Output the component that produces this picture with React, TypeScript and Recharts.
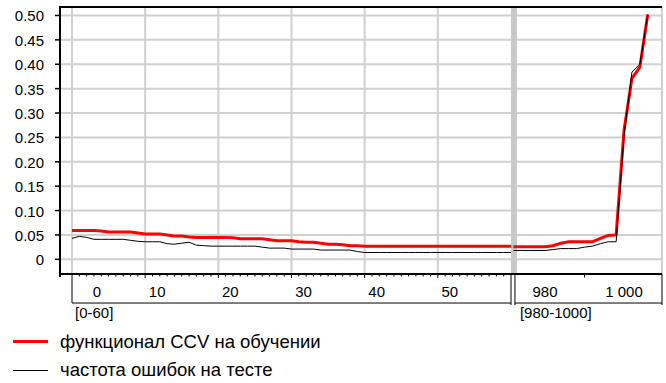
import React from "react";
import {
  LineChart,
  Line,
  XAxis,
  YAxis,
  CartesianGrid,
  ReferenceLine,
  ReferenceArea,
} from "recharts";

const FONT = '"Liberation Sans", Arial, sans-serif';

// left block of the broken x axis, [0-60]
const leftX = [
  0, 1, 2, 3, 4, 5, 6, 7, 8, 9, 10, 11, 12, 13, 14, 15, 16, 17, 18, 19, 20,
  21, 22, 23, 24, 25, 26, 27, 28, 29, 30, 31, 32, 33, 34, 35, 36, 37, 38, 39,
  40, 41, 42, 43, 44, 45, 46, 47, 48, 49, 50, 51, 52, 53, 54, 55, 56, 57, 58,
  59, 60,
];
const ccvLeft = [
  0.059, 0.059, 0.059, 0.059, 0.058, 0.056, 0.056, 0.056, 0.056, 0.054, 0.052,
  0.052, 0.052, 0.05, 0.048, 0.048, 0.046, 0.045, 0.045, 0.045, 0.045, 0.045,
  0.044, 0.042, 0.042, 0.042, 0.042, 0.04, 0.038, 0.038, 0.038, 0.036, 0.035,
  0.035, 0.033, 0.031, 0.031, 0.03, 0.028, 0.028, 0.027, 0.027, 0.027, 0.027,
  0.027, 0.027, 0.027, 0.027, 0.027, 0.027, 0.027, 0.027, 0.027, 0.027, 0.027,
  0.027, 0.027, 0.027, 0.027, 0.027, 0.027,
];
const testLeft = [
  0.043, 0.047, 0.045, 0.041, 0.041, 0.041, 0.041, 0.041, 0.039, 0.037, 0.036,
  0.036, 0.036, 0.032, 0.031, 0.033, 0.035, 0.029, 0.028, 0.027, 0.027, 0.027,
  0.027, 0.027, 0.027, 0.027, 0.025, 0.023, 0.023, 0.023, 0.021, 0.021, 0.021,
  0.021, 0.019, 0.019, 0.019, 0.019, 0.019, 0.016, 0.014, 0.014, 0.014, 0.014,
  0.014, 0.014, 0.014, 0.014, 0.014, 0.014, 0.014, 0.014, 0.014, 0.014, 0.014,
  0.014, 0.014, 0.014, 0.014, 0.014, 0.014,
];

// right block, [980-1000]
const rightX = [
  972, 974, 976, 978, 980, 982, 984, 986, 988, 990, 992, 994, 996, 998, 1000,
  1002, 1004, 1006,
];
const ccvRight = [
  0.026, 0.026, 0.026, 0.026, 0.026, 0.028, 0.033, 0.036, 0.036, 0.036, 0.036,
  0.043, 0.049, 0.05, 0.265, 0.371, 0.394, 0.502,
];
const testRight = [
  0.018, 0.018, 0.018, 0.018, 0.018, 0.02, 0.022, 0.022, 0.022, 0.025, 0.027,
  0.032, 0.036, 0.036, 0.254, 0.384, 0.4, 0.502,
];

const yTicks = [0, 0.05, 0.1, 0.15, 0.2, 0.25, 0.3, 0.35, 0.4, 0.45, 0.5];
const leftGrid = [0, 10, 20, 30, 40, 50];
const rightTicks = [980, 990, 1000];
const rightTickLabels = ["980", "", "1 000"];
const blockLabels = ["[0-60]", "[980-1000]"];
const seriesNames = ["функционал CCV на обучении", "частота ошибок на тесте"];

const W = 666;
const H = 383;
const MARGIN = { top: 7, right: 4, bottom: 107, left: 0 };
const Y_AXIS_W = 60;

const Y_MIN = -0.0301;
const Y_MAX = 0.5174;
const BOX_BOTTOM = -0.0896;
const BOX_EDGE = -0.0937;
const LEFT_DOMAIN = [0, 60];
const LEFT_PAD = { left: 12, right: 151 };
const RIGHT_DOMAIN = [971.4, 1009.6];
const RIGHT_BOX_START = 972.4;
const BAND_END = 972.9;

const PLOT_LEFT = MARGIN.left + Y_AXIS_W;
const PLOT_RIGHT = W - MARGIN.right;
const PLOT_TOP = MARGIN.top;
const PLOT_BOTTOM = H - MARGIN.bottom - 2;

const GRID = "#d0d0d0";

const toPoints = (xs: number[], ys: number[]) =>
  xs.map((x, i) => ({ x, y: ys[i] }));

// tick marks are small filled rects (thin <line> strokes did not show up)
const YTick = (props: any) => {
  const { x, y, payload } = props;
  const v = payload.value as number;
  return (
    <g>
      <rect x={x + 11} y={y - 0.75} width={4} height={1.5} fill="#000" />
      <text x={x} y={y} dy="0.4em" textAnchor="end" fontSize={15} fontFamily={FONT} fill="#000">
        {v === 0 ? "0" : v.toFixed(2)}
      </text>
    </g>
  );
};

const LeftTick = (props: any) => {
  const { x, y, payload } = props;
  const v = payload.value as number;
  const major = v % 10 === 0;
  return (
    <g>
      {v > 0 && v < 60 && (
        <rect x={x - 0.5} y={y + 1} width={1} height={major ? 3 : 1.5} fill="#000" />
      )}
      {major && v < 60 && (
        <text x={x + (v === 0 ? 25 : 12)} y={y + 23} textAnchor="middle" fontSize={15} fontFamily={FONT} fill="#000">
          {v}
        </text>
      )}
      {v === 0 && (
        <text x={x + 3} y={y + 44} fontSize={15} fontFamily={FONT} fill="#000">
          {blockLabels[0]}
        </text>
      )}
    </g>
  );
};

// axis "b" sits 1px below axis "a" (stacked), hence the -1
const RightTick = (props: any) => {
  const { x, y, payload } = props;
  const v = payload.value as number;
  if (v === RIGHT_BOX_START) {
    return (
      <text x={x + 5} y={y + 43} fontSize={15} fontFamily={FONT} fill="#000">
        {blockLabels[1]}
      </text>
    );
  }
  const label = rightTickLabels[rightTicks.indexOf(v)];
  return (
    <g>
      {!label && <rect x={x - 0.5} y={y} width={1} height={2.5} fill="#000" />}
      {label && (
        <text x={x} y={y + 22} textAnchor="middle" fontSize={15} fontFamily={FONT} fill="#000">
          {label}
        </text>
      )}
    </g>
  );
};

export default function App() {
  const box = { stroke: "#000", strokeWidth: 1, ifOverflow: "visible" as const, yAxisId: "y" };
  const frameBar = (style: React.CSSProperties) => (
    <div style={{ position: "absolute", background: "#000", ...style }} />
  );
  return (
    <div style={{ position: "absolute", left: 0, top: 0, width: W, height: H, background: "#fff", fontFamily: FONT }}>
      <LineChart width={W} height={H} margin={MARGIN}>
        <XAxis
          xAxisId="a"
          type="number"
          dataKey="x"
          domain={LEFT_DOMAIN}
          padding={LEFT_PAD}
          ticks={leftX}
          interval={0}
          height={1}
          axisLine={false}
          tickLine={false}
          tickSize={0}
          tickMargin={0}
          tick={<LeftTick />}
        />
        <XAxis
          xAxisId="b"
          type="number"
          dataKey="x"
          domain={RIGHT_DOMAIN}
          padding={{ left: 451, right: 0 }}
          ticks={[RIGHT_BOX_START, ...rightTicks]}
          interval={0}
          height={1}
          axisLine={false}
          tickLine={false}
          tickSize={0}
          tickMargin={0}
          tick={<RightTick />}
        />
        <YAxis
          yAxisId="y"
          type="number"
          domain={[Y_MIN, Y_MAX]}
          ticks={yTicks}
          interval={0}
          width={Y_AXIS_W}
          axisLine={false}
          tickLine={false}
          tickSize={6}
          tickMargin={10}
          tick={<YTick />}
        />
        <CartesianGrid xAxisId="a" yAxisId="y" vertical={false} stroke={GRID} strokeWidth={2} />
        {leftGrid.map((v) => (
          <ReferenceLine key={v} xAxisId="a" yAxisId="y" x={v} stroke={GRID} strokeWidth={2} ifOverflow="visible" />
        ))}
        <ReferenceLine xAxisId="b" yAxisId="y" x={RIGHT_DOMAIN[1]} stroke={GRID} strokeWidth={2} ifOverflow="visible" />
        <ReferenceArea
          xAxisId="b"
          yAxisId="y"
          x1={RIGHT_DOMAIN[0]}
          x2={BAND_END}
          y1={Y_MIN}
          y2={Y_MAX}
          fill="#c8c8c8"
          fillOpacity={1}
          stroke="none"
          ifOverflow="visible"
        />

        <Line xAxisId="a" yAxisId="y" data={toPoints(leftX, ccvLeft)} dataKey="y" stroke="#ff0000" strokeWidth={3} dot={false} isAnimationActive={false} />
        <Line xAxisId="b" yAxisId="y" data={toPoints(rightX, ccvRight)} dataKey="y" stroke="#ff0000" strokeWidth={3} dot={false} isAnimationActive={false} />
        <Line xAxisId="a" yAxisId="y" data={toPoints(leftX, testLeft)} dataKey="y" stroke="#000" strokeWidth={1} dot={false} isAnimationActive={false} />
        <Line xAxisId="b" yAxisId="y" data={toPoints(rightX, testRight)} dataKey="y" stroke="#000" strokeWidth={1} dot={false} isAnimationActive={false} />

        {/* boxes under the two axis blocks */}
        <ReferenceLine {...box} xAxisId="a" segment={[{ x: 0, y: Y_MIN }, { x: 0, y: BOX_BOTTOM }]} />
        <ReferenceLine {...box} xAxisId="a" segment={[{ x: 0, y: BOX_BOTTOM }, { x: 60, y: BOX_BOTTOM }]} />
        <ReferenceLine {...box} xAxisId="a" segment={[{ x: 60, y: Y_MIN }, { x: 60, y: BOX_EDGE }]} />
        <ReferenceLine {...box} xAxisId="b" segment={[{ x: RIGHT_BOX_START, y: Y_MIN }, { x: RIGHT_BOX_START, y: BOX_EDGE }]} />
        <ReferenceLine {...box} xAxisId="b" segment={[{ x: RIGHT_BOX_START, y: BOX_BOTTOM }, { x: RIGHT_DOMAIN[1], y: BOX_BOTTOM }]} />
        <ReferenceLine {...box} xAxisId="b" segment={[{ x: RIGHT_DOMAIN[1], y: Y_MIN }, { x: RIGHT_DOMAIN[1], y: BOX_EDGE }]} />
      </LineChart>

      {/* heavy plot frame: y axis, top and bottom edges */}
      {frameBar({ left: PLOT_LEFT - 1, top: PLOT_TOP - 1, width: 2, height: PLOT_BOTTOM - PLOT_TOP + 4 })}
      {frameBar({ left: PLOT_LEFT - 1, top: PLOT_TOP - 1, width: PLOT_RIGHT - PLOT_LEFT + 1, height: 2 })}
      {frameBar({ left: PLOT_LEFT - 1, top: PLOT_BOTTOM - 1, width: PLOT_RIGHT - PLOT_LEFT + 1, height: 2 })}

      {/* legend */}
      {seriesNames.map((name, i) => (
        <div
          key={name}
          style={{
            position: "absolute",
            left: 13,
            top: 330.5 + i * 28.5,
            height: 22,
            display: "flex",
            alignItems: "center",
            fontSize: 18.5,
            color: "#000",
            whiteSpace: "nowrap",
          }}
        >
          <span
            style={{
              display: "inline-block",
              width: 35,
              height: i === 0 ? 3 : 1,
              background: i === 0 ? "#ff0000" : "#000",
              marginRight: 12,
            }}
          />
          {name}
        </div>
      ))}
    </div>
  );
}
